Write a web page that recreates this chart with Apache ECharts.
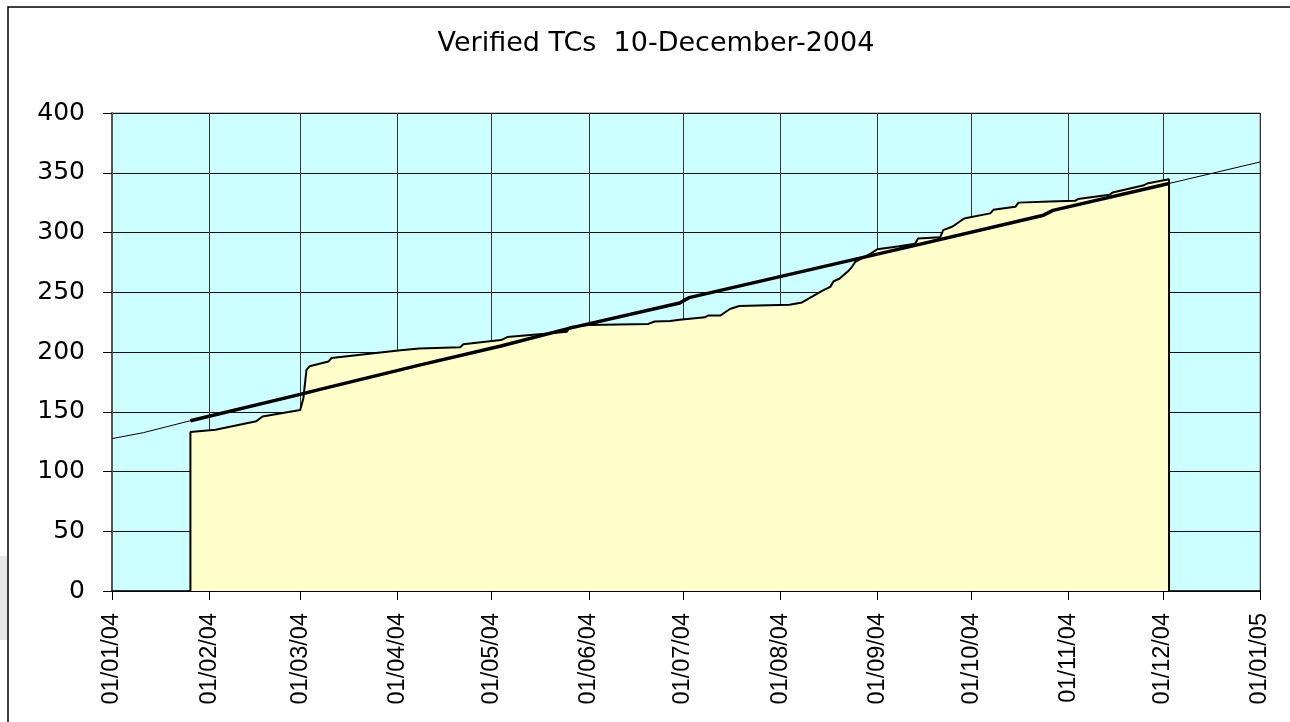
<!DOCTYPE html>
<html>
<head>
<meta charset="utf-8">
<script src="https://cdn.jsdelivr.net/npm/echarts@6/dist/echarts.min.js"></script>
<style>
html,body{margin:0;padding:0;background:#fff;}
#chart{width:1290px;height:722px;}
</style>
</head>
<body>
<div id="chart"></div>
<script>
// Verified TCs (cumulative) – yellow area
const verifiedDates = [
  '2004-01-26','2004-01-26','2004-02-03','2004-02-16','2004-02-18','2004-03-01','2004-03-02',
  '2004-03-03','2004-03-04','2004-03-10','2004-03-11','2004-04-02','2004-04-08','2004-04-21',
  '2004-04-22','2004-05-04','2004-05-06','2004-05-19','2004-05-25','2004-05-26','2004-06-01',
  '2004-06-20','2004-06-22','2004-06-27','2004-06-30','2004-07-08','2004-07-09','2004-07-13',
  '2004-07-16','2004-07-19','2004-07-25','2004-08-04','2004-08-08','2004-08-13','2004-08-15',
  '2004-08-17','2004-08-18','2004-08-20','2004-08-23','2004-08-24','2004-08-25','2004-08-30',
  '2004-09-01','2004-09-08','2004-09-13','2004-09-14','2004-09-21','2004-09-22','2004-09-25',
  '2004-09-28','2004-09-29','2004-10-07','2004-10-08','2004-10-15','2004-10-16','2004-10-26',
  '2004-11-03','2004-11-04','2004-11-14','2004-11-15','2004-11-25','2004-11-26','2004-12-03',
  '2004-12-03'
];
const verifiedValues = [
  0,133,135,142,146,151.5,161,
  185,188,192,195,201.5,203,204,
  206.5,210,212.5,215.5,217,221,222.5,
  223.5,225.5,226,227,229,230.5,230.5,
  236,238.5,239,239.5,241.5,249,252,
  254.5,259,261.5,268.5,271.5,275.5,282.5,
  286,288.5,290.5,295,296,302,305,
  310.5,312,316,319,321.5,325,326,
  326.5,328,331.5,333.5,339.5,341,344.5,
  0
];
// Target / trend line
const trendDates  = ['2004-01-01','2004-01-11','2004-01-26','2004-03-01','2004-03-07','2004-04-08','2004-05-04','2004-05-26','2004-06-30','2004-07-03','2004-09-11','2004-10-24','2004-10-27','2004-12-03','2005-01-01'];
const trendValues = [127.5,132.5,142.5,164.5,168.5,189,205,220,241,245.5,288,314.5,318.5,341,359];
const yTicks = {min:0, max:400, interval:50};
const xRange = {min:'2004-01-01', max:'2005-01-01'};
const titleText = 'Verified TCs  10-December-2004';

const ts = s => new Date(s + 'T00:00:00').getTime();
const areaData = verifiedDates.map((d,i)=>[ts(d), verifiedValues[i]]);
const trendData = trendDates.map((d,i)=>[ts(d), trendValues[i]]);
const tStart = ts(verifiedDates[0]), tEnd = ts(verifiedDates[verifiedDates.length-1]);
const thickData = trendData.filter(p => p[0] >= tStart && p[0] <= tEnd);
const pad = n => (n<10?'0':'')+n;
const DAY = 86400000;

const chart = echarts.init(document.getElementById('chart'), null, {renderer:'canvas'});
chart.setOption({
  animation:false,
  backgroundColor:'#ffffff',
  grid:{left:112, right:30, top:113, bottom:131, show:true, backgroundColor:'#CCFFFF', borderColor:'#808080', borderWidth:1},
  xAxis:{
    type:'time', min:ts(xRange.min), max:ts(xRange.max),
    splitNumber:12, minInterval:28*DAY, maxInterval:31*DAY,
    axisLine:{show:true, lineStyle:{color:'#000', width:1.5}},
    axisTick:{show:true, length:9, inside:false, lineStyle:{color:'#000'}},
    splitLine:{show:true, lineStyle:{color:'#333', width:1}},
    axisLabel:{rotate:90, margin:22, fontFamily:'Liberation Sans, Arial', fontSize:23.5, color:'#000',
      showMinLabel:true, showMaxLabel:true, hideOverlap:false,
      formatter:v=>{const d=new Date(v); return pad(d.getDate())+'/'+pad(d.getMonth()+1)+'/'+String(d.getFullYear()).slice(2);}}
  },
  yAxis:{
    type:'value', min:yTicks.min, max:yTicks.max, interval:yTicks.interval,
    axisLine:{show:true, lineStyle:{color:'#555', width:2}},
    axisTick:{show:true, length:9, lineStyle:{color:'#000'}},
    splitLine:{show:true, lineStyle:{color:'#111', width:1}},
    axisLabel:{margin:27, fontFamily:'DejaVu Sans', fontSize:25, color:'#000'}
  },
  series:[
    {type:'line', data:areaData, symbol:'none', z:2,
     lineStyle:{color:'#000', width:2}, areaStyle:{color:'#FFFFCC', opacity:1, origin:'start'}},
    {type:'line', data:trendData, symbol:'none', z:3, lineStyle:{color:'#000', width:1}},
    {type:'line', data:thickData, symbol:'none', z:4, lineStyle:{color:'#000', width:3.5}}
  ],
  graphic:[
    {type:'text', x:656, y:44, style:{text:titleText, font:'27px "DejaVu Sans"', fill:'#000', align:'center', verticalAlign:'middle'}},
    {type:'polyline', silent:true, shape:{points:[[8,730],[8,7],[1300,7]]}, style:{stroke:'#000', lineWidth:1.5, fill:null}},
    {type:'rect', silent:true, shape:{x:0, y:556, width:7, height:84}, style:{fill:'#e8e8e8'}}
  ]
});
</script>
</body>
</html>
